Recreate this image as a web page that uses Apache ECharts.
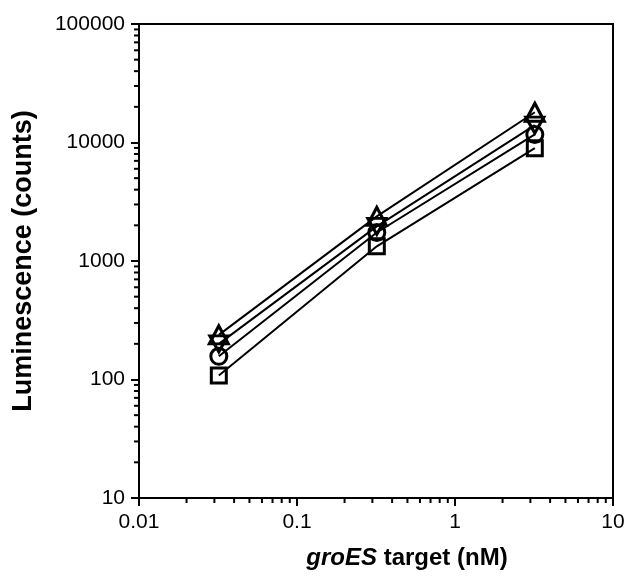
<!DOCTYPE html>
<html>
<head>
<meta charset="utf-8">
<script src="https://cdn.jsdelivr.net/npm/echarts@6/dist/echarts.min.js"></script>
<style>
html, body { margin: 0; padding: 0; background: #fff; }
#chart { width: 630px; height: 580px; }
</style>
</head>
<body>
<div id="chart"></div>
<script>
// target concentrations (nM)
var conc = [0.032, 0.32, 3.2];
// luminescence counts, one array per probe set
var squareVals = [108, 1330, 8950];
var circleVals = [157, 1740, 11700];
var downVals = [200, 1960, 14000];
var upVals = [238, 2380, 18000];
// minor tick values on the two log axes
var xMinor = [0.02, 0.03, 0.04, 0.05, 0.06, 0.07, 0.08, 0.09,
	0.2, 0.3, 0.4, 0.5, 0.6, 0.7, 0.8, 0.9,
	2, 3, 4, 5, 6, 7, 8, 9];
var yMinor = [20, 30, 40, 50, 60, 70, 80, 90,
	200, 300, 400, 500, 600, 700, 800, 900,
	2000, 3000, 4000, 5000, 6000, 7000, 8000, 9000,
	20000, 30000, 40000, 50000, 60000, 70000, 80000, 90000];

var font = '"Liberation Sans", Arial, sans-serif';

function pairs(ys) {
	var out = [];
	for (var i = 0; i < conc.length; i++) {
		out.push([conc[i], ys[i]]);
	}
	return out;
}

function lineSeries(ys, symbol, size) {
	return {
		type: 'line',
		data: pairs(ys),
		symbol: symbol,
		symbolSize: size,
		showAllSymbol: true,
		lineStyle: { color: '#000', width: 2 },
		itemStyle: { color: 'rgba(0,0,0,0)', borderColor: '#000', borderWidth: 3 },
		emphasis: { disabled: true },
		z: 3
	};
}

// little outward ticks drawn through the axes' own scales
function minorTicks(vals, dir) {
	var data = [];
	for (var i = 0; i < vals.length; i++) {
		data.push(dir == 'x' ? [vals[i], 10] : [0.01, vals[i]]);
	}
	return {
		type: 'custom',
		silent: true,
		clip: false,
		data: data,
		z: 5,
		renderItem: function(params, api) {
			var p = api.coord([api.value(0), api.value(1)]);
			var shape = dir == 'x' ?
				{ x1: p[0], y1: p[1], x2: p[0], y2: p[1] + 5 } :
				{ x1: p[0], y1: p[1], x2: p[0] - 5, y2: p[1] };
			return {
				type: 'line',
				shape: shape,
				style: { stroke: '#000', lineWidth: 2 }
			};
		}
	};
}

function fmt(v) {
	return String(parseFloat(Number(v).toPrecision(6)));
}

var chart = echarts.init(document.getElementById('chart'));
chart.setOption({
	animation: false,
	grid: {
		left: 139, right: 17, top: 24, bottom: 82,
		show: true, borderColor: '#000', borderWidth: 2
	},
	xAxis: {
		type: 'log',
		logBase: 10,
		min: 0.01,
		max: 10,
		name: '{i|groES} target (nM)',
		nameLocation: 'middle',
		nameGap: 48,
		nameTextStyle: {
			fontFamily: font, fontSize: 24, fontWeight: 'bold', color: '#000',
			padding: [0, 0, 0, 62],
			rich: {
				i: { fontFamily: font, fontSize: 24, fontWeight: 'bold', fontStyle: 'italic', color: '#000' }
			}
		},
		axisLine: { lineStyle: { color: '#000', width: 2 } },
		axisTick: { show: true, inside: false, length: 8, lineStyle: { color: '#000', width: 2 } },
		splitLine: { show: false },
		axisLabel: { fontFamily: font, fontSize: 21, color: '#000', margin: 14, formatter: fmt }
	},
	yAxis: {
		type: 'log',
		logBase: 10,
		min: 10,
		max: 100000,
		name: 'Luminescence (counts)',
		nameLocation: 'middle',
		nameGap: 102,
		nameTextStyle: { fontFamily: font, fontSize: 27, fontWeight: 'bold', color: '#000' },
		axisLine: { lineStyle: { color: '#000', width: 2 } },
		axisTick: { show: true, inside: false, length: 8, lineStyle: { color: '#000', width: 2 } },
		splitLine: { show: false },
		axisLabel: { fontFamily: font, fontSize: 21, color: '#000', margin: 14, formatter: fmt }
	},
	series: [
		lineSeries(squareVals, 'rect', 15),
		lineSeries(circleVals, 'circle', 16),
		lineSeries(downVals, 'path://M0,0 L10,0 L5,9 Z', [18, 16]),
		lineSeries(upVals, 'triangle', [19, 18]),
		minorTicks(xMinor, 'x'),
		minorTicks(yMinor, 'y')
	]
});
</script>
</body>
</html>
